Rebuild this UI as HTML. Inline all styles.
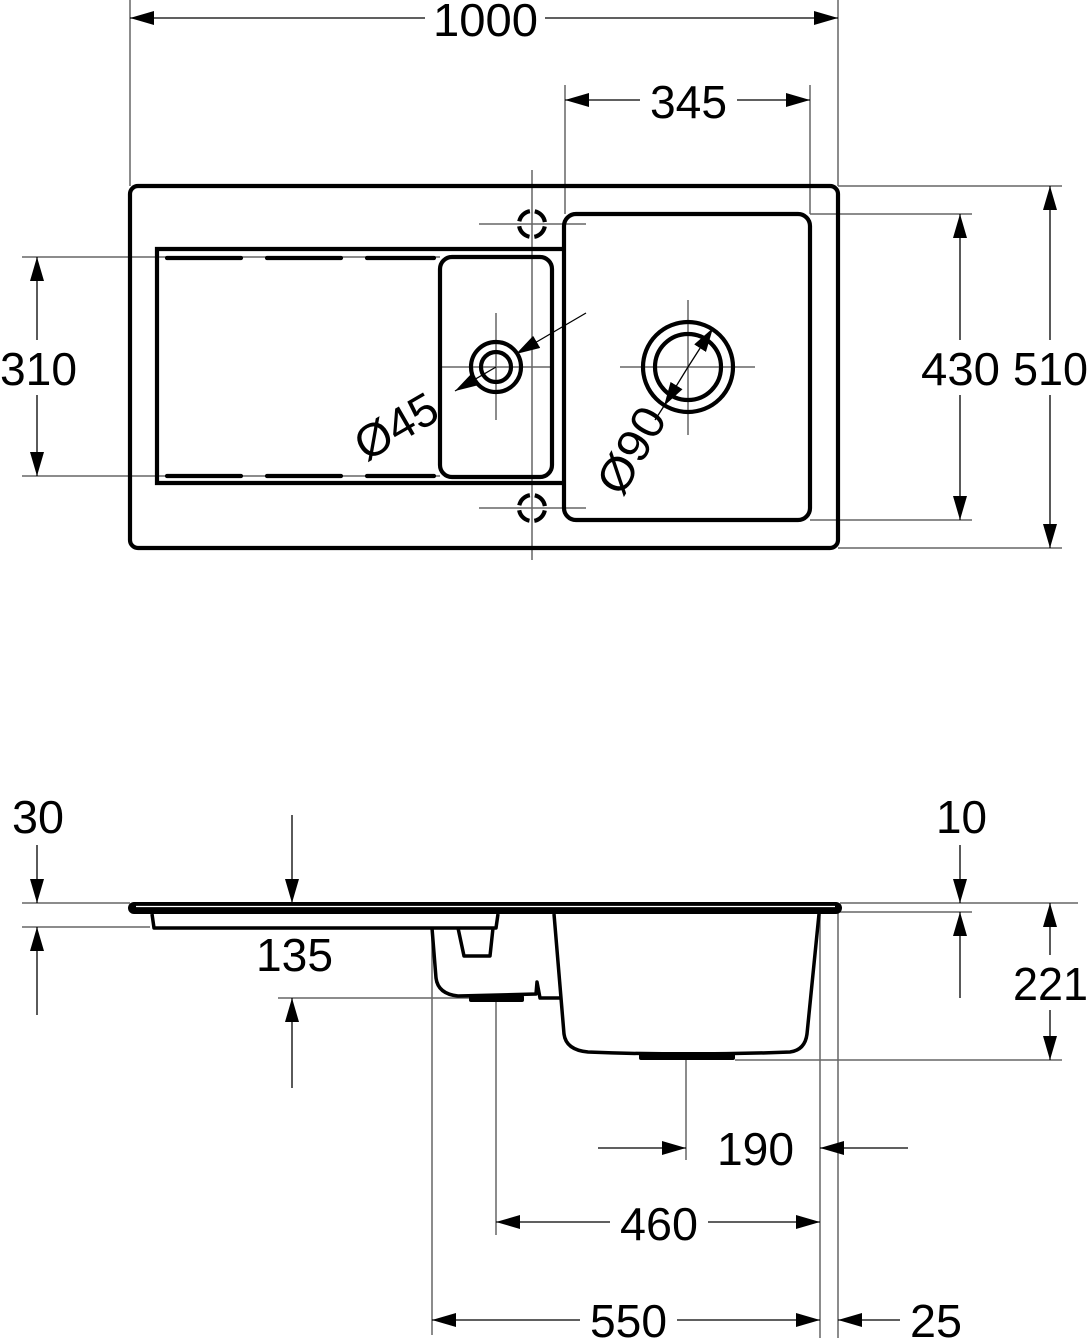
<!DOCTYPE html>
<html><head><meta charset="utf-8"><style>html,body{margin:0;padding:0;background:#fff}svg{display:block}</style></head>
<body>
<svg width="1090" height="1338" viewBox="0 0 1090 1338" xmlns="http://www.w3.org/2000/svg">
<defs>
<marker id="a" viewBox="0 0 24 14" refX="24" refY="7" markerWidth="24" markerHeight="14" markerUnits="userSpaceOnUse" orient="auto-start-reverse"><path d="M0,0 L24,7 L0,14 Z" fill="#000"/></marker>
</defs>
<g font-family="Liberation Sans, sans-serif" font-size="46" fill="#000">
<g stroke="#666" stroke-width="1.5" fill="none">
<line x1="130" y1="0" x2="130" y2="186"/><line x1="838" y1="0" x2="838" y2="186"/>
<line x1="565" y1="85" x2="565" y2="214"/><line x1="810" y1="85" x2="810" y2="214"/>
<line x1="810" y1="214" x2="972" y2="214"/><line x1="810" y1="520" x2="972" y2="520"/>
<line x1="838" y1="186" x2="1062" y2="186"/><line x1="838" y1="548" x2="1062" y2="548"/>
<line x1="22" y1="257" x2="440" y2="257"/><line x1="22" y1="476" x2="440" y2="476"/>
<line x1="22" y1="903" x2="130" y2="903"/><line x1="22" y1="927" x2="150" y2="927"/>
<line x1="278" y1="998" x2="470" y2="998"/>
<line x1="840" y1="903" x2="1078" y2="903"/><line x1="820" y1="912" x2="972" y2="912"/>
<line x1="735" y1="1060" x2="1062" y2="1060"/>
<line x1="686" y1="1060" x2="686" y2="1160"/>
<line x1="496" y1="998" x2="496" y2="1235"/>
<line x1="432" y1="928" x2="432" y2="1335"/>
<line x1="820" y1="913" x2="820" y2="1338"/><line x1="838" y1="913" x2="838" y2="1338"/>
<line x1="479" y1="224" x2="586" y2="224"/><line x1="479" y1="508" x2="586" y2="508"/>
<line x1="532" y1="170" x2="532" y2="560"/>
<line x1="442" y1="367" x2="550" y2="367"/><line x1="496" y1="313" x2="496" y2="420"/>
<line x1="620" y1="367" x2="755" y2="367"/><line x1="688" y1="300" x2="688" y2="435"/>
</g>
<g stroke="#000" stroke-width="1.3" fill="none">
<line x1="130" y1="18" x2="425" y2="18" marker-start="url(#a)"/><line x1="545" y1="18" x2="838" y2="18" marker-end="url(#a)"/>
<line x1="565" y1="100" x2="640" y2="100" marker-start="url(#a)"/><line x1="737" y1="100" x2="810" y2="100" marker-end="url(#a)"/>
<line x1="960" y1="214" x2="960" y2="340" marker-start="url(#a)"/><line x1="960" y1="395" x2="960" y2="520" marker-end="url(#a)"/>
<line x1="1050" y1="186" x2="1050" y2="340" marker-start="url(#a)"/><line x1="1050" y1="395" x2="1050" y2="548" marker-end="url(#a)"/>
<line x1="37" y1="257" x2="37" y2="340" marker-start="url(#a)"/><line x1="37" y1="395" x2="37" y2="476" marker-end="url(#a)"/>
<line x1="37" y1="845" x2="37" y2="903" marker-end="url(#a)"/><line x1="37" y1="1015" x2="37" y2="927" marker-end="url(#a)"/>
<line x1="292" y1="815" x2="292" y2="903" marker-end="url(#a)"/><line x1="292" y1="1088" x2="292" y2="998" marker-end="url(#a)"/>
<line x1="960" y1="845" x2="960" y2="903" marker-end="url(#a)"/><line x1="960" y1="998" x2="960" y2="912" marker-end="url(#a)"/>
<line x1="1050" y1="903" x2="1050" y2="955" marker-start="url(#a)"/><line x1="1050" y1="1010" x2="1050" y2="1060" marker-end="url(#a)"/>
<line x1="598" y1="1148" x2="686" y2="1148" marker-end="url(#a)"/><line x1="908" y1="1148" x2="820" y2="1148" marker-end="url(#a)"/>
<line x1="496" y1="1222" x2="610" y2="1222" marker-start="url(#a)"/><line x1="708" y1="1222" x2="820" y2="1222" marker-end="url(#a)"/>
<line x1="432" y1="1320" x2="580" y2="1320" marker-start="url(#a)"/><line x1="677" y1="1320" x2="820" y2="1320" marker-end="url(#a)"/>
<line x1="838" y1="1320" x2="900" y2="1320" marker-start="url(#a)"/>
<line x1="586" y1="313" x2="516" y2="354" marker-end="url(#a)"/><line x1="496" y1="367" x2="455" y2="391" marker-end="url(#a)"/>
<line x1="688" y1="367" x2="713" y2="328" marker-end="url(#a)"/><line x1="688" y1="367" x2="664" y2="406" marker-end="url(#a)"/>
<line x1="664" y1="406" x2="655" y2="420"/>
</g>
<g stroke="#000" stroke-width="4.2" fill="none">
<rect x="130" y="186" width="708" height="362" rx="8"/>
<path d="M563,249 H157 V483 H563"/>
<rect x="440" y="257" width="112" height="220" rx="12"/>
<rect x="564" y="214" width="246" height="306" rx="12"/>
<circle cx="496" cy="367" r="25"/><circle cx="496" cy="367" r="15"/>
<circle cx="688" cy="367" r="45"/><circle cx="688" cy="367" r="33"/>
<circle cx="532" cy="224" r="13" stroke-dasharray="15.4 5" stroke-dashoffset="17.9"/>
<circle cx="532" cy="508" r="13" stroke-dasharray="15.4 5" stroke-dashoffset="17.9"/>
<g stroke-linecap="round">
<line x1="167" y1="258" x2="241" y2="258"/><line x1="267" y1="258" x2="341" y2="258"/><line x1="367" y1="258" x2="434" y2="258"/>
<line x1="167" y1="476" x2="241" y2="476"/><line x1="267" y1="476" x2="341" y2="476"/><line x1="367" y1="476" x2="434" y2="476"/>
</g>
</g>
<rect x="128" y="902" width="714" height="12" rx="6" fill="#000"/>
<line x1="136" y1="906.5" x2="835" y2="906.5" stroke="#fff" stroke-width="1.3"/>
<g stroke="#000" stroke-width="3.5" fill="none" stroke-linejoin="round">
<path d="M152,914 L154,928 H496 L498,914"/>
<path d="M493,928 L490,956 H464 L458,928"/>
<path d="M432,928 L436,978 Q438,994 458,996 L536,994 L537,982 L540,998 H561"/>
<path d="M554,914 L564,1034 Q566,1050 588,1052 Q690,1056 790,1052 Q805,1050 807,1034 L819,914"/>
</g>
<rect x="469" y="995" width="55" height="7" rx="2" fill="#000"/>
<rect x="639" y="1052" width="96" height="8" rx="2" fill="#000"/>
<text x="433" y="36" textLength="105" lengthAdjust="spacingAndGlyphs">1000</text>
<text x="650" y="118" textLength="77" lengthAdjust="spacingAndGlyphs">345</text>
<text x="0" y="385" textLength="77" lengthAdjust="spacingAndGlyphs">310</text>
<text x="921" y="385" textLength="79" lengthAdjust="spacingAndGlyphs">430</text>
<text x="1013" y="385" textLength="75" lengthAdjust="spacingAndGlyphs">510</text>
<text x="12" y="833" textLength="52" lengthAdjust="spacingAndGlyphs">30</text>
<text x="936" y="833" textLength="51" lengthAdjust="spacingAndGlyphs">10</text>
<text x="256" y="971" textLength="77" lengthAdjust="spacingAndGlyphs">135</text>
<text x="1013" y="1000" textLength="75" lengthAdjust="spacingAndGlyphs">221</text>
<text x="717" y="1165" textLength="77" lengthAdjust="spacingAndGlyphs">190</text>
<text x="620" y="1240" textLength="78" lengthAdjust="spacingAndGlyphs">460</text>
<text x="590" y="1337" textLength="77" lengthAdjust="spacingAndGlyphs">550</text>
<text x="910" y="1337" textLength="52" lengthAdjust="spacingAndGlyphs">25</text>
<text transform="translate(366,462) rotate(-30)" textLength="88" lengthAdjust="spacingAndGlyphs">Ø45</text>
<text transform="translate(622,498) rotate(-60)" textLength="92" lengthAdjust="spacingAndGlyphs">Ø90</text>
</g>
</svg>
</body></html>
